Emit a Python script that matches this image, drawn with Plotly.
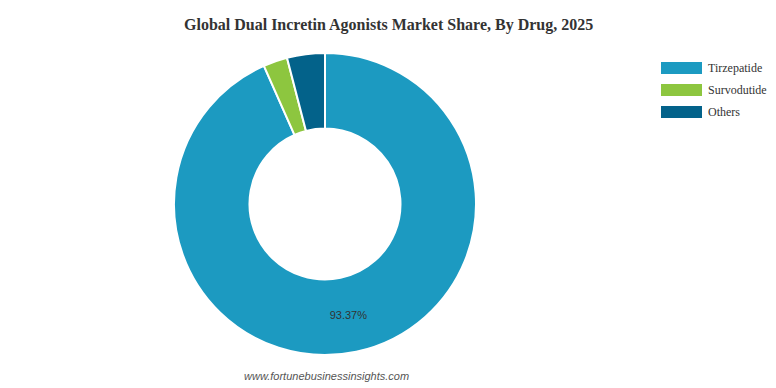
import plotly.graph_objects as go

labels = ["Tirzepatide", "Survodutide", "Others"]
values = [93.37, 2.58, 4.05]
colors = ["#1C9AC1", "#8DC63F", "#03628A"]
shown_text = ["93.37%", "", ""]

W, H = 776, 388

fig = go.Figure()
fig.add_trace(go.Pie(
    labels=labels,
    values=values,
    hole=0.5,
    sort=False,
    direction="clockwise",
    rotation=0,
    marker=dict(colors=colors, line=dict(color="white", width=2)),
    text=shown_text,
    textinfo="text",
    textposition="inside",
    insidetextorientation="horizontal",
    textfont=dict(family="Liberation Sans, Arial", size=11, color="#333333"),
    hoverinfo="label+percent",
    showlegend=False,
    domain=dict(x=[(325 - 200) / W, (325 + 200) / W], y=[(H - 355) / H, (H - 53) / H]),
))

shapes = []
annotations = []
for i, (lab, col) in enumerate(zip(labels, colors)):
    y0 = 62 + 22 * i
    shapes.append(dict(type="rect", xref="paper", yref="paper",
                       x0=661 / W, x1=702 / W, y0=1 - (y0 + 12) / H, y1=1 - y0 / H,
                       fillcolor=col, line=dict(width=0)))
    annotations.append(dict(text=lab, xref="paper", yref="paper", x=706 / W, y=1 - (y0 + 6) / H,
                            xanchor="left", yanchor="middle", showarrow=False,
                            font=dict(family="Liberation Serif, Times New Roman", size=12, color="#333333")))

annotations.append(dict(text="<b>Global Dual Incretin Agonists Market Share, By Drug, 2025</b>",
                        xref="paper", yref="paper", x=0.5, y=1 - 25 / H, xanchor="center", yanchor="middle",
                        showarrow=False,
                        font=dict(family="Liberation Serif, Times New Roman", size=16, color="#333333")))
annotations.append(dict(text="<i>www.fortunebusinessinsights.com</i>",
                        xref="paper", yref="paper", x=326 / W, y=1 - 376 / H, xanchor="center", yanchor="middle",
                        showarrow=False,
                        font=dict(family="Liberation Sans, Arial", size=11, color="#555555")))

fig.update_layout(
    width=W, height=H,
    margin=dict(l=0, r=0, t=0, b=0),
    paper_bgcolor="white", plot_bgcolor="white",
    shapes=shapes, annotations=annotations,
)

fig.write_html("out.html")
